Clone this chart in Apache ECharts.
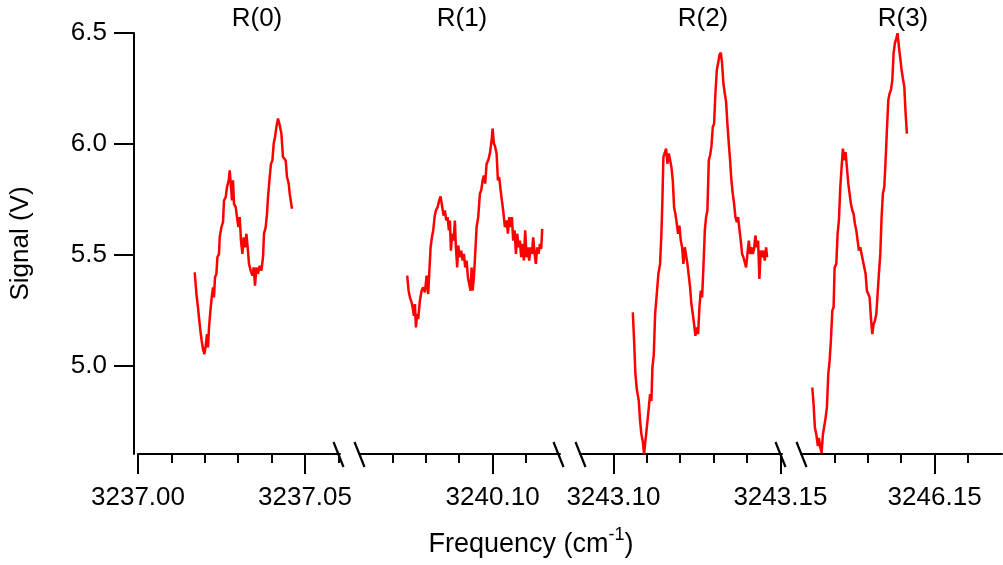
<!DOCTYPE html>
<html><head><meta charset="utf-8">
<script src="https://cdn.jsdelivr.net/npm/echarts@6.0.0/dist/echarts.min.js"></script>
<style>html,body{margin:0;padding:0;background:#fff}#c{width:1003px;height:565px}</style>
</head><body><div id="c"></div>
<script>
// ---------------- data ----------------
const peakLabels = ['R(0)', 'R(1)', 'R(2)', 'R(3)'];

const r0Freq = [3237.01698,3237.01749,3237.01796,3237.01826,3237.01868,3237.01907,3237.01946,3237.01988,3237.02027,3237.02066,
3237.02096,3237.02126,3237.02168,3237.02207,3237.02246,3237.02275,3237.02305,3237.02347,3237.02377,3237.02425,
3237.02446,3237.02497,3237.02545,3237.02575,3237.02626,3237.02665,3237.02716,3237.02746,3237.02784,3237.02814,
3237.02844,3237.02874,3237.02925,3237.02964,3237.03006,3237.03045,3237.03084,3237.03126,3237.03165,3237.03204,
3237.03246,3237.03284,3237.03323,3237.03374,3237.03425,3237.03464,3237.03503,3237.03545,3237.03593,3237.03644,
3237.03695,3237.03743,3237.03772,3237.03823,3237.03862,3237.03892,3237.03943,3237.03982,3237.04024,3237.04063,
3237.04102,3237.04144,3237.04192,3237.04243,3237.04293,3237.04341,3237.04422,3237.04461,3237.04512,3237.04542,
3237.04593,3237.04611];
const r0Signal = [5.420,5.323,5.262,5.216,5.156,5.111,5.073,5.051,5.088,5.141,
5.081,5.171,5.247,5.307,5.352,5.307,5.397,5.413,5.488,5.503,
5.578,5.624,5.646,5.744,5.759,5.805,5.835,5.880,5.805,5.744,
5.835,5.729,5.714,5.669,5.624,5.669,5.563,5.503,5.578,5.533,
5.594,5.533,5.458,5.428,5.405,5.442,5.360,5.442,5.413,5.450,
5.428,5.488,5.594,5.624,5.684,5.759,5.850,5.910,5.925,6.001,
6.031,6.076,6.114,6.084,6.046,5.940,5.925,5.850,5.820,5.775,
5.767,5.707];

const r1Freq = [3240.07443,3240.07485,3240.07524,3240.07575,3240.07605,3240.07644,3240.07674,3240.07704,3240.07743,3240.07772,
3240.07823,3240.07874,3240.07922,3240.07973,3240.08024,3240.08072,3240.08102,3240.08144,3240.08183,3240.08222,
3240.08263,3240.08302,3240.08353,3240.08401,3240.08443,3240.08491,3240.08533,3240.08572,3240.08611,3240.08653,
3240.08692,3240.08722,3240.08752,3240.08790,3240.08832,3240.08871,3240.08901,3240.08940,3240.08970,3240.09021,
3240.09060,3240.09102,3240.09141,3240.09180,3240.09222,3240.09261,3240.09299,3240.09341,3240.09371,3240.09401,
3240.09440,3240.09479,3240.09521,3240.09569,3240.09620,3240.09659,3240.09701,3240.09740,3240.09778,3240.09820,
3240.09868,3240.09919,3240.09970,3240.10000,3240.10039,3240.10078,3240.10120,3240.10159,3240.10198,3240.10240,
3240.10278,3240.10317,3240.10368,3240.10419,3240.10458,3240.10497,3240.10539,3240.10578,3240.10617,3240.10659,
3240.10698,3240.10737,3240.10778,3240.10817,3240.10856,3240.10898,3240.10937,3240.10976,3240.11018,3240.11057,
3240.11096,3240.11138,3240.11177,3240.11216,3240.11257,3240.11296,3240.11335,3240.11377,3240.11416,3240.11455,
3240.11485];
const r1Signal = [5.405,5.337,5.307,5.284,5.262,5.224,5.277,5.171,5.232,5.209,
5.292,5.337,5.352,5.329,5.405,5.322,5.413,5.533,5.578,5.609,
5.669,5.699,5.714,5.744,5.762,5.759,5.676,5.699,5.654,5.669,
5.609,5.654,5.518,5.594,5.563,5.654,5.533,5.442,5.541,5.488,
5.518,5.473,5.503,5.442,5.473,5.397,5.367,5.337,5.442,5.337,
5.397,5.503,5.624,5.669,5.775,5.790,5.835,5.857,5.820,5.910,
5.925,5.956,6.016,6.069,6.001,5.986,5.956,5.835,5.850,5.790,
5.744,5.699,5.624,5.654,5.594,5.669,5.624,5.669,5.563,5.609,
5.503,5.594,5.533,5.563,5.488,5.548,5.473,5.609,5.488,5.533,
5.473,5.533,5.503,5.578,5.503,5.458,5.533,5.503,5.548,5.526,
5.616];

const r2Freq = [3243.10581,3243.10620,3243.10659,3243.10701,3243.10760,3243.10799,3243.10838,3243.10880,3243.10919,3243.10958,
3243.11000,3243.11060,3243.11099,3243.11138,3243.11168,3243.11210,3243.11249,3243.11299,3243.11347,3243.11398,
3243.11437,3243.11467,3243.11497,3243.11539,3243.11578,3243.11617,3243.11659,3243.11698,3243.11737,3243.11778,
3243.11817,3243.11856,3243.11898,3243.11937,3243.11976,3243.12018,3243.12057,3243.12096,3243.12138,3243.12177,
3243.12216,3243.12257,3243.12296,3243.12335,3243.12377,3243.12416,3243.12455,3243.12497,3243.12536,3243.12575,
3243.12617,3243.12656,3243.12695,3243.12737,3243.12775,3243.12814,3243.12856,3243.12895,3243.12934,3243.12976,
3243.13015,3243.13054,3243.13096,3243.13135,3243.13174,3243.13216,3243.13254,3243.13293,3243.13335,3243.13374,
3243.13413,3243.13455,3243.13494,3243.13533,3243.13575,3243.13614,3243.13653,3243.13695,3243.13734,3243.13772,
3243.13814,3243.13853,3243.13892,3243.13934,3243.13973,3243.14012,3243.14054,3243.14093,3243.14132,3243.14174,
3243.14213,3243.14251,3243.14293,3243.14332,3243.14371,3243.14413,3243.14452,3243.14491,3243.14533,3243.14572,
3243.14602];
const r2Signal = [5.239,5.111,4.960,4.892,4.839,4.749,4.689,4.658,4.600,4.658,
4.719,4.809,4.870,4.839,4.990,5.051,5.232,5.322,5.413,5.458,
5.594,5.744,5.940,5.948,5.978,5.910,5.956,5.963,5.895,5.835,
5.714,5.684,5.639,5.594,5.631,5.563,5.533,5.458,5.533,5.541,
5.458,5.465,5.352,5.277,5.232,5.186,5.133,5.171,5.141,5.262,
5.337,5.307,5.442,5.609,5.669,5.699,5.925,5.948,5.986,6.076,
6.091,6.227,6.333,6.363,6.400,6.411,6.363,6.272,6.227,6.189,
6.091,6.001,5.925,5.835,5.775,5.729,5.669,5.646,5.669,5.616,
5.563,5.503,5.488,5.481,5.442,5.503,5.563,5.503,5.533,5.503,
5.526,5.586,5.533,5.563,5.390,5.518,5.488,5.518,5.473,5.533,
5.488];

const r3Freq = [3246.11338,3246.11377,3246.11416,3246.11458,3246.11506,3246.11536,3246.11578,3246.11617,3246.11656,3246.11698,
3246.11737,3246.11775,3246.11817,3246.11856,3246.11895,3246.11937,3246.11976,3246.12006,3246.12057,3246.12096,
3246.12135,3246.12177,3246.12216,3246.12254,3246.12296,3246.12335,3246.12374,3246.12416,3246.12455,3246.12494,
3246.12536,3246.12575,3246.12614,3246.12656,3246.12695,3246.12734,3246.12775,3246.12814,3246.12853,3246.12895,
3246.12934,3246.12973,3246.13015,3246.13054,3246.13093,3246.13135,3246.13174,3246.13213,3246.13255,3246.13293,
3246.13332,3246.13374,3246.13413,3246.13452,3246.13494,3246.13533,3246.13572,3246.13614,3246.13653,3246.13692,
3246.13734,3246.13772,3246.13811,3246.13853,3246.13892,3246.13931,3246.13973,3246.14012,3246.14051,3246.14093,
3246.14132,3246.14171];
const r3Signal = [4.900,4.824,4.719,4.689,4.636,4.673,4.628,4.605,4.689,4.726,
4.764,4.809,4.960,5.020,5.111,5.247,5.262,5.442,5.458,5.594,
5.654,5.805,5.895,5.978,5.925,5.963,5.956,5.820,5.775,5.729,
5.699,5.684,5.639,5.609,5.563,5.518,5.533,5.503,5.473,5.442,
5.413,5.337,5.322,5.307,5.216,5.141,5.186,5.201,5.232,5.232,
5.413,5.503,5.669,5.775,5.805,5.925,6.061,6.197,6.227,6.242,
6.287,6.408,6.453,6.476,6.499,6.438,6.438,6.333,6.295,6.257,
6.137,6.046];

const yTicks = [5.0, 5.5, 6.0, 6.5];
const majorTicks = [[3237.00, 3237.05], [3240.10], [3243.10, 3243.15], [3246.15]];
const minorTicks = [
  [3237.01, 3237.02, 3237.03, 3237.04, 3237.06],
  [3240.07, 3240.08, 3240.09, 3240.11],
  [3243.11, 3243.12, 3243.13, 3243.14],
  [3246.12, 3246.13, 3246.14, 3246.16]
];
const segmentStart = [3237.00, 3240.06, 3243.09, 3246.11];
const yMin = 4.6, yMax = 6.5;

// ---------------- layout ----------------
const FONT = 'Liberation Sans, Arial, Helvetica, sans-serif';
const FS = 26;
const PX_PER_UNIT = 3340;
const segLeft = [138, 359, 580, 801];
const segWidth = [202, 201, 202, 201];
const gridTop = 33, gridHeight = 421;
const axisY = gridTop + gridHeight;
const labelPos = [[257, 19], [462, 19], [703, 19], [903, 19]];

const freqs = [r0Freq, r1Freq, r2Freq, r3Freq];
const signals = [r0Signal, r1Signal, r2Signal, r3Signal];

const lineBlack = { color: '#000', width: 2 };
const grid = segLeft.map((l, i) => ({ left: l, top: gridTop, width: segWidth[i], height: gridHeight }));
const xAxis = [];
segLeft.forEach((l, i) => {
  const min = segmentStart[i];
  const max = min + segWidth[i] / PX_PER_UNIT;
  xAxis.push({
    type: 'value', gridIndex: i, min: min, max: max, position: 'bottom', offset: 0,
    axisLine: { show: true, onZero: false, lineStyle: lineBlack },
    axisTick: { show: true, customValues: majorTicks[i], length: 20, lineStyle: lineBlack },
    axisLabel: { show: true, customValues: majorTicks[i], formatter: v => Number(v).toFixed(2),
      margin: 31, fontSize: FS, color: '#000', fontFamily: FONT },
    splitLine: { show: false }
  });
  xAxis.push({
    type: 'value', gridIndex: i, min: min, max: max, position: 'bottom', offset: 0,
    axisLine: { show: false, onZero: false },
    axisTick: { show: true, customValues: minorTicks[i], length: 9, lineStyle: lineBlack },
    axisLabel: { show: false },
    splitLine: { show: false }
  });
});

const yAxis = segLeft.map((l, i) => {
  if (i === 0) {
    return {
      type: 'value', gridIndex: 0, min: yMin, max: yMax, offset: 4,
      axisLine: { show: true, onZero: false, lineStyle: lineBlack },
      axisTick: { show: true, customValues: yTicks, length: 20, lineStyle: lineBlack },
      axisLabel: { show: true, customValues: yTicks, formatter: v => Number(v).toFixed(1),
        margin: 27, fontSize: FS, color: '#000', fontFamily: FONT },
      splitLine: { show: false },
      name: 'Signal (V)', nameLocation: 'middle', nameGap: 100,
      nameTextStyle: { fontSize: FS, color: '#000', fontFamily: FONT }
    };
  }
  return { type: 'value', gridIndex: i, min: yMin, max: yMax, show: false, splitLine: { show: false } };
});

const series = freqs.map((f, i) => ({
  type: 'line', xAxisIndex: 2 * i, yAxisIndex: i,
  data: f.map((x, j) => [x, signals[i][j]]),
  symbol: 'none', showSymbol: false, silent: true, clip: true,
  lineStyle: { color: '#ff0000', width: 2.5 }, itemStyle: { color: '#ff0000' }
}));

const graphic = [];
for (let i = 0; i < 3; i++) {
  const c1 = segLeft[i] + segWidth[i] - 1.5;
  const c2 = segLeft[i + 1] + 0.5;
  [c1, c2].forEach(c => graphic.push({
    type: 'line', silent: true,
    shape: { x1: c - 5, y1: axisY - 12, x2: c + 5, y2: axisY + 13 },
    style: { stroke: '#000', lineWidth: 2.2 }
  }));
}
peakLabels.forEach((t, i) => graphic.push({
  type: 'text', x: labelPos[i][0], y: labelPos[i][1], silent: true,
  style: { text: t, fontSize: FS, fontFamily: FONT, fill: '#000', align: 'center', verticalAlign: 'middle' }
}));
graphic.push({
  type: 'text', x: 531, y: 545, silent: true,
  style: {
    text: '{a|Frequency (cm}{s|-1}{a|)}',
    fontFamily: FONT, fill: '#000', align: 'center', verticalAlign: 'middle',
    rich: {
      a: { fontSize: 27, lineHeight: 38, fontFamily: FONT, fill: '#000' },
      s: { fontSize: 18, lineHeight: 18, verticalAlign: 'top', fontFamily: FONT, fill: '#000' }
    }
  }
});

const chart = echarts.init(document.getElementById('c'), null, { renderer: 'canvas' });
chart.setOption({
  backgroundColor: '#fff',
  animation: false,
  grid: grid,
  xAxis: xAxis,
  yAxis: yAxis,
  series: series,
  graphic: graphic
});
</script>
</body></html>
